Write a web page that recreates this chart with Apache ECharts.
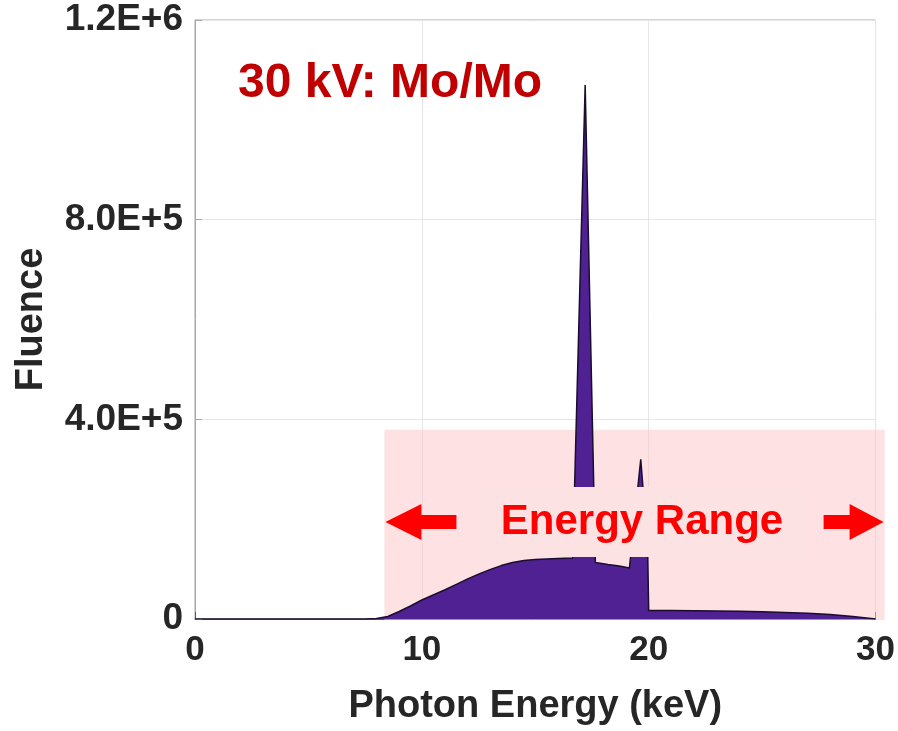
<!DOCTYPE html>
<html>
<head>
<meta charset="utf-8">
<script src="https://cdn.jsdelivr.net/npm/echarts@6/dist/echarts.min.js"></script>
<style>
    html, body { margin: 0; padding: 0; background: #ffffff; }
    #chart { width: 898px; height: 731px; }
</style>
</head>
<body>
<div id="chart"></div>
<script>
    // spectrum (keV, photons)
    var energyKeV = [0, 7.5, 8.0, 8.5, 9.0, 9.5, 10, 10.5, 11, 11.5, 12, 12.5, 13, 13.5, 14, 14.5,
        15, 15.5, 16, 16.65, 16.7, 17.2, 17.65, 18.2, 18.7, 19.15, 19.25, 19.65, 19.95, 20.0,
        21, 22, 23, 24, 25, 26, 27, 28, 29, 29.5, 30];
    var fluence = [0, 0, 1000, 5000, 15000, 26000, 38000, 48000, 58000, 69000, 80000, 90000, 99000, 107000, 113000, 117000,
        119000, 120000, 121000, 122000, 126000, 1070000, 113000, 109000, 106000, 102000, 145000, 320000, 145000, 17000,
        17000, 16500, 16000, 15500, 14500, 13000, 11500, 9000, 5000, 2500, 0];

    var xTicks = [0, 10, 20, 30];
    var yTicks = [0, 400000, 800000, 1200000];
    var yTickLabels = ['0', '4.0E+5', '8.0E+5', '1.2E+6'];

    // energy range band: keV from / to, fluence from / to
    var rangeBand = [8.35, 30.4, 0, 379000];

    var TXT = '#262626';
    var FONT = 'Liberation Sans';

    var points = [];
    for (var i = 0; i < energyKeV.length; i++) {
        points.push([energyKeV[i], fluence[i]]);
    }

    var chart = echarts.init(document.getElementById('chart'));

    var option = {
        backgroundColor: '#ffffff',
        animation: false,
        grid: {
            left: 195,
            right: 21,
            top: 20,
            bottom: 109,
            show: true,
            borderColor: '#a8a8a8',
            borderWidth: 1
        },
        xAxis: {
            type: 'value',
            min: xTicks[0],
            max: xTicks[xTicks.length - 1],
            interval: 10,
            name: 'Photon Energy (keV)',
            nameLocation: 'middle',
            nameGap: 69,
            nameTextStyle: { color: TXT, fontSize: 38, fontWeight: 'bold', fontFamily: FONT },
            axisLine: { lineStyle: { color: '#5a5a5a', width: 1 } },
            axisTick: { inside: true, length: 7, lineStyle: { color: '#5a5a5a' } },
            axisLabel: { color: TXT, fontSize: 35, fontWeight: 'bold', fontFamily: FONT, margin: 14 },
            splitLine: { show: true, lineStyle: { color: '#e6e6e6', width: 1 } }
        },
        yAxis: {
            type: 'value',
            min: yTicks[0],
            max: yTicks[yTicks.length - 1],
            interval: 400000,
            name: 'Fluence',
            nameLocation: 'middle',
            nameGap: 144,
            nameRotate: 90,
            nameTextStyle: { color: TXT, fontSize: 38, fontWeight: 'bold', fontFamily: FONT },
            axisLine: { show: true, lineStyle: { color: '#a8a8a8', width: 1 } },
            axisTick: { show: true, inside: true, length: 7, lineStyle: { color: '#a8a8a8' } },
            axisLabel: {
                color: TXT, fontSize: 37, fontWeight: 'bold', fontFamily: FONT, margin: 12,
                formatter: function (v) {
                    var k = yTicks.indexOf(v);
                    return k >= 0 ? yTickLabels[k] : '';
                }
            },
            splitLine: { show: true, lineStyle: { color: '#e6e6e6', width: 1 } }
        },
        series: [
            {
                type: 'line',
                data: points,
                z: 3,
                symbol: 'none',
                smooth: false,
                lineStyle: { color: '#1a0d2e', width: 1.5 },
                areaStyle: { color: '#4f2193', opacity: 1 }
            }
        ]
    };

    chart.setOption(option);

    // band + labels, placed from the axis scales
    var p0 = chart.convertToPixel({ gridIndex: 0 }, [rangeBand[0], rangeBand[3]]);
    var p1 = chart.convertToPixel({ gridIndex: 0 }, [rangeBand[1], rangeBand[2]]);
    var midY = 522;

    chart.setOption({
        graphic: [
            {
                type: 'rect',
                z: 1,
                silent: true,
                shape: { x: p0[0], y: p0[1], width: p1[0] - p0[0], height: p1[1] - p0[1] + 1 },
                style: { fill: '#fcc3c7', opacity: 0.5 }
            },
            {
                type: 'text',
                left: 238,
                top: 60,
                z: 10,
                style: {
                    text: '30 kV: Mo/Mo',
                    fill: '#c00000',
                    font: 'bold 48px "Liberation Sans"'
                }
            },
            {
                type: 'text',
                x: 642,
                y: midY,
                z: 10,
                style: {
                    text: 'Energy Range',
                    fill: '#ff0000',
                    font: 'bold 42px "Liberation Sans"',
                    align: 'center',
                    verticalAlign: 'middle',
                    backgroundColor: '#fde2e3',
                    padding: [16, 22, 12, 22]
                }
            },
            {
                // left arrow
                type: 'polygon',
                z: 10,
                shape: {
                    points: [[p0[0] + 1, midY], [p0[0] + 37, midY - 18], [p0[0] + 37, midY - 7],
                        [p0[0] + 72, midY - 7], [p0[0] + 72, midY + 7], [p0[0] + 37, midY + 7], [p0[0] + 37, midY + 18]]
                },
                style: { fill: '#ff0000' }
            },
            {
                // right arrow
                type: 'polygon',
                z: 10,
                shape: {
                    points: [[p1[0] - 1, midY], [p1[0] - 35, midY - 18], [p1[0] - 35, midY - 7],
                        [p1[0] - 61, midY - 7], [p1[0] - 61, midY + 7], [p1[0] - 35, midY + 7], [p1[0] - 35, midY + 18]]
                },
                style: { fill: '#ff0000' }
            }
        ]
    });
</script>
</body>
</html>
